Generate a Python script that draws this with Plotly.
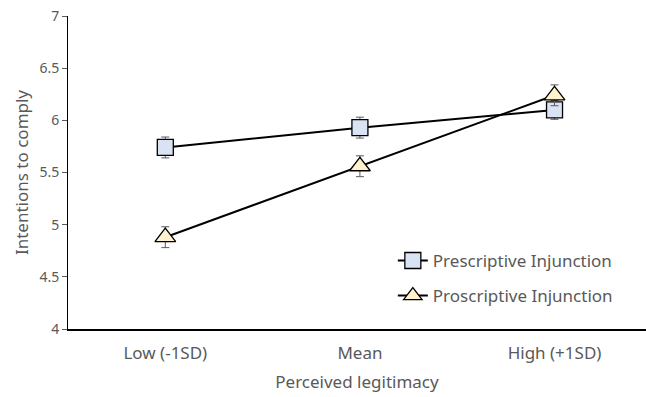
import plotly.graph_objects as go

categories = ["Low (-1SD)", "Mean", "High (+1SD)"]
prescriptive = [5.74, 5.93, 6.10]
prescriptive_err = [0.10, 0.10, 0.09]
proscriptive = [4.88, 5.56, 6.24]
proscriptive_err = [0.10, 0.10, 0.10]
y_ticks = [4, 4.5, 5, 5.5, 6, 6.5, 7]
y_ticktext = ["4", "4.5", "5", "5.5", "6", "6.5", "7"]

FONT = "Noto Sans"
GRAY = "#595959"

fig = go.Figure()
fig.add_trace(go.Scatter(
    x=categories, y=prescriptive, name="Prescriptive Injunction",
    mode="lines+markers", legendgroup="a",
    line=dict(color="black", width=2),
    marker=dict(symbol="square", size=16, color="#DAE3F3",
                line=dict(color="black", width=1.3)),
    error_y=dict(type="data", array=prescriptive_err, color=GRAY,
                 thickness=1, width=4),
))
fig.add_trace(go.Scatter(
    x=categories, y=proscriptive, name="Proscriptive Injunction",
    mode="lines+markers", legendgroup="b",
    line=dict(color="black", width=2),
    marker=dict(symbol="triangle-up", size=18, color="#FFF2CC",
                line=dict(color="black", width=1.3)),
    error_y=dict(type="data", array=proscriptive_err, color=GRAY,
                 thickness=1, width=4),
))

fig.update_layout(
    width=646, height=397,
    margin=dict(l=68, r=0, t=16, b=68),
    paper_bgcolor="white", plot_bgcolor="white",
    font=dict(family=FONT, color=GRAY, size=13),
    legend=dict(x=0.562, y=0.275, xanchor="left", yanchor="top",
                font=dict(size=17, color=GRAY), tracegroupgap=10,
                bgcolor="rgba(0,0,0,0)"),
    xaxis=dict(type="category", range=[-0.5, 2.47], showgrid=False,
               showline=True, linecolor="black", linewidth=2,
               ticks="", tickfont=dict(size=17, color=GRAY),
               ticklabelstandoff=8,
               title=dict(text="Perceived legitimacy", font=dict(size=17, color=GRAY),
                          standoff=13)),
    yaxis=dict(range=[4, 7], tickvals=y_ticks, ticktext=y_ticktext,
               showgrid=False, zeroline=False, showline=True,
               linecolor="black", linewidth=1, ticks="outside", ticklen=5,
               tickcolor=GRAY, tickfont=dict(size=14, color=GRAY),
               automargin=False,
               title=dict(text="Intentions to comply", font=dict(size=17, color=GRAY),
                          standoff=6)),
)
fig.write_html("out.html", config={"displayModeBar": False},
               post_script="document.body.style.margin='0px';")
